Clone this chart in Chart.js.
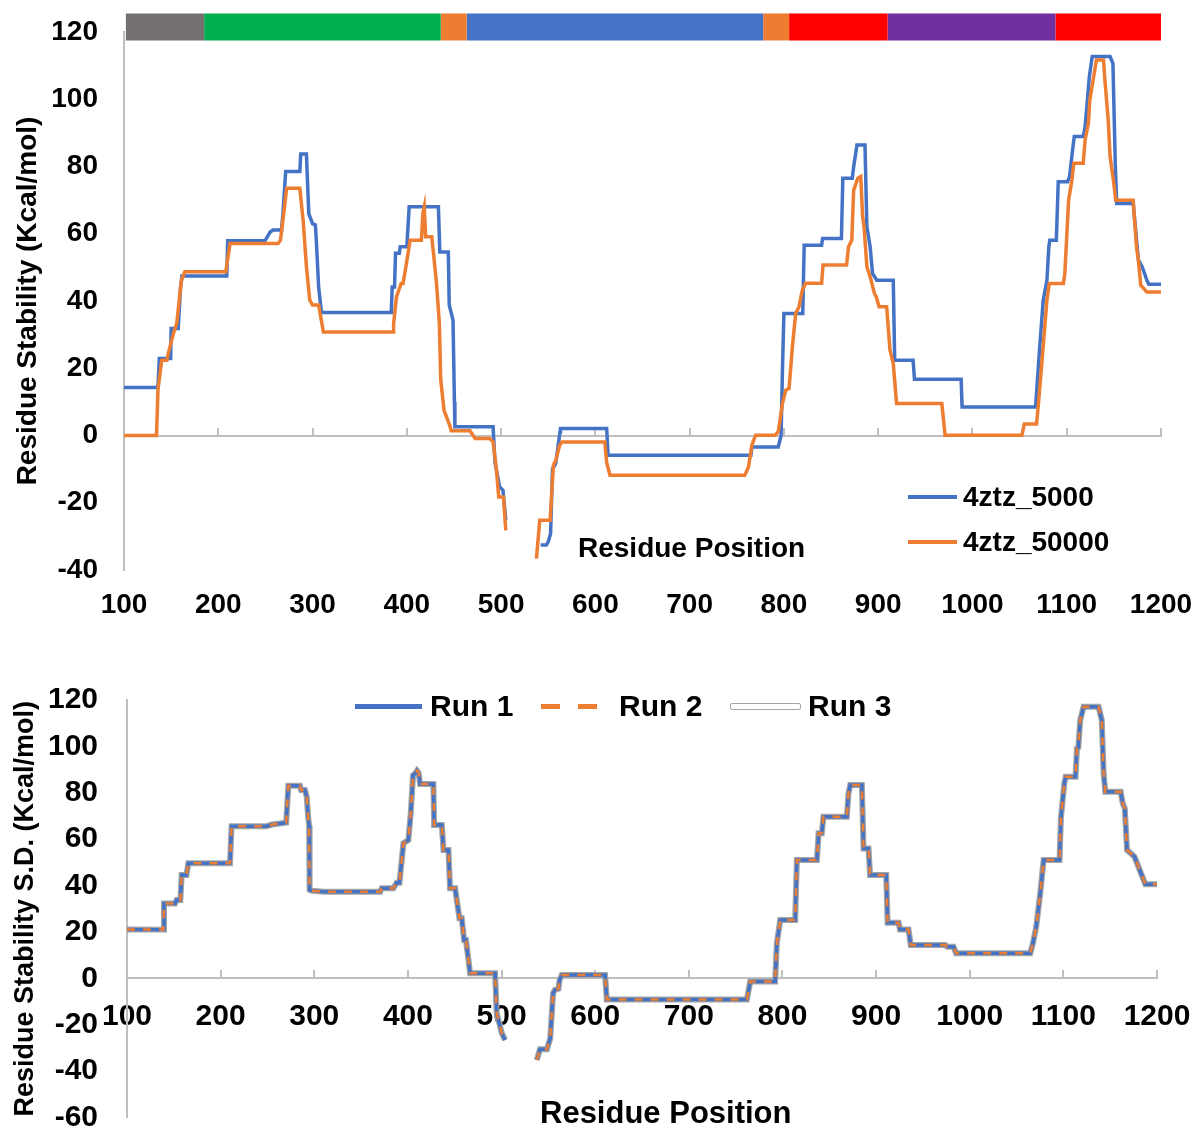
<!DOCTYPE html>
<html lang="en">
<head>
  <meta charset="UTF-8">
  <title>Residue Stability</title>
  <script src="https://cdn.jsdelivr.net/npm/chart.js"></script>
  <style>
    body {
      margin: 0;
      background: #fff;
      overflow: hidden;
    }

    #page {
      position: relative;
      width: 1197px;
      height: 1131px;
      font-family: 'Liberation Sans', Arial, sans-serif;
      font-weight: bold;
      color: #000;
    }

    canvas {
      position: absolute;
      left: 0;
      display: block;
    }

    .label {
      position: absolute;
      white-space: nowrap;
      line-height: 1;
    }

    .swatch {
      position: absolute;
      box-sizing: border-box;
    }
  </style>
</head>
<body>
  <div id="page">
    <canvas id="topChart" width="1197" height="630" style="top:0"></canvas>
    <canvas id="sdChart" width="1197" height="520" style="top:630px"></canvas>

    <!-- top chart: axis title sits inside the plot, legend bottom right -->
    <div class="label" style="left:578px;top:534px;font-size:28px">Residue Position</div>
    <div class="swatch" style="left:908px;top:495px;width:49px;height:4px;background:#4472C4"></div>
    <div class="label" style="left:963px;top:483px;font-size:28px">4ztz_5000</div>
    <div class="swatch" style="left:908px;top:540px;width:49px;height:4px;background:#ED7D31"></div>
    <div class="label" style="left:963px;top:528px;font-size:28px">4ztz_50000</div>

    <!-- bottom chart legend -->
    <div class="swatch" style="left:355px;top:704px;width:67px;height:5px;background:#4472C4"></div>
    <div class="label" style="left:430px;top:691px;font-size:30px">Run 1</div>
    <div class="swatch" style="left:541px;top:704px;width:60px;height:5px;background:repeating-linear-gradient(90deg,#ED7D31 0 19px,transparent 19px 37px)"></div>
    <div class="label" style="left:619px;top:691px;font-size:30px">Run 2</div>
    <div class="swatch" style="left:730px;top:703px;width:71px;height:7px;border:1.5px solid #A5A5A5;background:#fff;border-radius:2px"></div>
    <div class="label" style="left:808px;top:691px;font-size:30px">Run 3</div>
    <div class="label" style="left:540px;top:1097px;font-size:31px">Residue Position</div>
  </div>

  <script>
    // domain bar above the top chart (residue ranges)
    const domainStart = [102, 185, 436, 463.5, 778, 805.5, 910, 1088];
    const domainEnd   = [185, 436, 463.5, 778, 805.5, 910, 1088, 1200];
    const domainColors = ['#767171', '#00B050', '#ED7D31', '#4472C4', '#ED7D31', '#FF0000', '#7030A0', '#FF0000'];
    const domainLevel = 121.5;

    // top chart: 4ztz_5000
    const pos5000 = [100, 136, 137.5, 149.5, 150, 157.5, 160, 161.5, 209, 210,
      249.5, 255, 258, 267, 268.5, 271.5, 286.5, 287.5, 293.5, 296,
      300, 303, 304, 306.5, 309.5, 383.5, 384.5, 387, 388, 392,
      393, 400, 402.5, 433.5, 435, 444, 445, 449, 450.5, 451,
      491.5, 493.5, 498.5, 502, 505, 520, 542, 548, 550, 552.5,
      554.5, 556, 558, 562.5, 563, 612, 613.5, 765, 766, 794,
      797, 798.5, 800, 820, 821.5, 840, 841, 861, 862.5, 872.5,
      874, 877.5, 886, 888, 891.5, 894, 898.5, 916, 917.5, 937,
      938.5, 988, 989, 1067, 1071, 1075, 1079, 1081, 1082, 1089,
      1091, 1101, 1103, 1106, 1108, 1117.5, 1119.5, 1124, 1127, 1146,
      1149, 1151.5, 1153, 1170.5, 1176, 1180, 1185, 1187, 1200];
    const val5000 = [14.3, 14.3, 22.9, 22.9, 31.8, 31.8, 44, 47.4, 47.4, 57.9,
      57.9, 60.5, 61.1, 61.1, 65.6, 78.5, 78.5, 83.7, 83.7, 66,
      63, 62.6, 58, 44, 36.6, 36.6, 44.2, 44.2, 54.2, 54.2,
      56.1, 56.1, 68, 68, 54.6, 54.6, 38.8, 34.3, 10, 2.6,
      2.6, -8, -15.3, -16.3, -25.2, null, -32.6, -32.6, -31.6, -29.2,
      -10, -9.3, -8.3, 1.1, 2.1, 2.1, -5.9, -5.9, -3.4, -3.4,
      0, 20, 36.3, 36.3, 56.6, 56.6, 58.6, 58.6, 76.5, 76.5,
      79.9, 86.4, 86.4, 62.1, 56.1, 48.2, 46.2, 46.2, 22.4, 22.4,
      16.7, 16.7, 8.5, 8.5, 25, 40, 46.2, 56, 58.1, 58.1,
      75.5, 75.5, 77, 84.4, 88.9, 88.9, 91.8, 106.7, 112.7, 112.7,
      110.7, 80.9, 69, 69, 52.2, 50.2, 46.2, 45, 45];

    // top chart: 4ztz_50000
    const pos50000 = [100, 134.5, 136, 140, 145.5, 147, 152.5, 156, 160, 161,
      164.5, 208, 212.5, 263.5, 266, 269, 272.5, 286.5, 290, 293.5,
      297, 300, 306.5, 311.5, 385.5, 386, 389, 394, 396, 399,
      403.5, 415.5, 417, 418.5, 420, 426.5, 431.5, 434.5, 436, 439.5,
      446, 447, 467, 472.5, 488, 491.5, 495, 497.5, 502.5, 505,
      520, 537.5, 541, 552, 555.5, 558, 562, 564.5, 610, 612,
      615.5, 758.5, 762.5, 766, 770, 790.5, 794, 798.5, 802, 805.5,
      809, 812.5, 816, 819.5, 823, 840, 841.5, 866.5, 868.5, 872,
      874, 878.5, 881.5, 883.5, 885, 888, 891.5, 896, 898, 901,
      909, 912.5, 916, 919.5, 967.5, 971, 1052.5, 1055, 1068, 1070,
      1075, 1079, 1081.5, 1096.5, 1098, 1102, 1105.5, 1107.5, 1117.5, 1119.5,
      1123, 1124.5, 1128, 1131.5, 1139, 1140.5, 1144, 1146, 1149.5, 1152,
      1170.5, 1174, 1176, 1178.5, 1185, 1200];
    const val50000 = [0, 0, 13.5, 22.4, 22.4, 24.5, 30.4, 33.4, 44, 46.2,
      48.7, 48.7, 57.1, 57.1, 58.1, 65, 73.5, 73.5, 64.1, 50.2,
      40.3, 38.8, 38.8, 30.8, 30.8, 33.3, 41.2, 45.2, 45.2, 50.2,
      58.1, 58.1, 66, 68, 59.1, 59.1, 45.2, 33.4, 16.5, 7.5,
      2.6, 1.4, 1.4, -0.9, -0.9, -1.9, -10, -18.3, -18.3, -28.2,
      null, -36.6, -25.2, -25.2, -8.8, -7.4, -3, -1.9, -1.9, -8,
      -11.8, -11.8, -9.3, -2.9, 0.1, 0.1, 1.1, 9.6, 13.5, 14,
      26.4, 36.3, 38.3, 43.2, 45.3, 45.3, 50.7, 50.7, 56.1, 58.1,
      73, 76.5, 77, 65.1, 62.1, 50.2, 47.2, 42.3, 41.2, 38.3,
      38.3, 25.4, 21.4, 9.5, 9.5, 0.1, 0.1, 3.4, 3.4, 9.5,
      26.4, 40.3, 45.2, 45.2, 48.2, 70, 76, 81, 81, 87.9,
      92.9, 99.8, 105.7, 111.7, 111.7, 105.7, 93.8, 82.9, 76, 70,
      70, 56.1, 52.2, 44.7, 42.7, 42.7];

    // bottom chart: Run 1, Run 2 and Run 3 lie on top of each other in the picture
    const sdPos = [100, 138.8, 139.5, 151.3, 153, 157, 158.4, 163.5, 165.5, 210,
      211.7, 249, 255, 270, 272.3, 284.7, 286, 290, 292, 293.4,
      294.5, 295, 296.5, 310, 370.3, 372, 384.5, 388, 391, 395.2,
      400.5, 403, 405.5, 408, 409.7, 411.5, 413, 427.2, 428, 436.2,
      438, 443.3, 445, 450.4, 455, 457.5, 460, 462, 466.4, 493.1,
      494.8, 500.3, 503.8, 520, 537.7, 541, 548.4, 552, 555, 557,
      560.8, 562, 564.3, 610.6, 612.4, 762, 765.6, 792.2, 794, 797.6,
      813.6, 815.4, 836.8, 838.6, 842, 843.8, 868.8, 870.5, 872.4, 884.8,
      886.6, 891.9, 893.6, 910.8, 912.3, 924, 925.5, 934.6, 937, 973.8,
      976, 982.7, 985.5, 1064.7, 1067.5, 1071, 1075.3, 1078.9, 1095.9, 1097.4,
      1101, 1102.5, 1113, 1114.5, 1116, 1118, 1121.6, 1137.6, 1141, 1143,
      1144.8, 1161.2, 1163.5, 1165.6, 1168, 1172, 1176, 1187.5, 1200];
    const sdStability = [21.1, 21, 32.3, 32.3, 33.8, 33.8, 44.5, 44.5, 49.6, 49.6,
      65.6, 65.6, 66.3, 67.1, 83, 83, 81.2, 81.2, 78.3, 69.7,
      66, 38.1, 37.8, 37.3, 37.3, 38.8, 38.8, 41.2, 41.2, 58.2,
      59.6, 71.1, 87.6, 88.4, 89.5, 88.5, 83.8, 83.8, 66.1, 66.1,
      55.3, 55.3, 38.8, 38.8, 25.9, 25.9, 16.5, 16.5, 2.2, 2.2,
      -15.1, -23.7, -26.6, null, -35.2, -30.6, -30.6, -25.9, -6.5, -5,
      -4.5, -0.7, 1.4, 1.4, -9.1, -9.1, -1.4, -1.4, 15.1, 25.1,
      25.1, 51, 51, 62.5, 62.5, 69.7, 69.7, 79.7, 83.3, 83.3,
      56, 56, 44.5, 44.5, 24, 24, 21.1, 21.1, 14.4, 14.4,
      13.6, 13.6, 10.8, 10.8, 15.1, 22.2, 36.6, 51, 51, 69.2,
      84, 86.9, 86.9, 99.1, 99.5, 111.3, 117.1, 117.1, 111.3, 88.4,
      80.4, 80.4, 75.4, 73.3, 55.3, 53.9, 52.4, 40.6, 40.6];

    const axisGray = '#BFBFBF';
    const tickFontTop = { size: 28, weight: 'bold' };
    const tickFontSd = { size: 30, weight: 'bold' };
    const plainNumber = (v) => String(v);

    Chart.defaults.font.family = "'Liberation Sans', Arial, sans-serif";
    Chart.defaults.color = '#000';

    function points(xs, ys) {
      return xs.map((x, i) => ({ x: x, y: ys[i] }));
    }

    // labels may hang over the plot edges, as in the original
    function noOverflowPadding(scale) {
      scale.paddingLeft = 0;
      scale.paddingRight = 0;
      scale.paddingTop = 0;
      scale.paddingBottom = 0;
    }

    const domainSets = domainStart.map((start, i) => ({
      data: [{ x: start, y: domainLevel }, { x: domainEnd[i], y: domainLevel }],
      borderColor: domainColors[i],
      borderWidth: 27,
      borderCapStyle: 'butt',
      clip: false,
      pointRadius: 0,
      order: 5
    }));

    new Chart(document.getElementById('topChart'), {
      type: 'line',
      data: {
        datasets: [
          {
            label: '4ztz_5000',
            data: points(pos5000, val5000),
            borderColor: '#4472C4',
            borderWidth: 3.5,
            pointRadius: 0,
            order: 1
          },
          {
            label: '4ztz_50000',
            data: points(pos50000, val50000),
            borderColor: '#ED7D31',
            borderWidth: 3.5,
            pointRadius: 0,
            order: 0
          }
        ].concat(domainSets)
      },
      options: {
        responsive: false,
        devicePixelRatio: 1,
        animation: false,
        layout: { padding: { top: 32, right: 36, left: 0, bottom: 0 } },
        plugins: { legend: { display: false }, tooltip: { enabled: false } },
        scales: {
          x: {
            type: 'linear',
            position: 'bottom',
            min: 100,
            max: 1200,
            ticks: { stepSize: 100, autoSkip: false, maxRotation: 0, padding: 0, font: tickFontTop, callback: plainNumber },
            grid: { display: false, drawTicks: true, tickLength: 18 },
            border: { display: false },
            afterFit: (scale) => { scale.height = 60; noOverflowPadding(scale); }
          },
          x0: {
            type: 'linear',
            position: { y: 0 },
            min: 100,
            max: 1200,
            ticks: { stepSize: 100, display: false },
            grid: { drawOnChartArea: false, tickLength: -9, color: axisGray, lineWidth: 2 },
            border: { color: axisGray, width: 2 },
            afterFit: noOverflowPadding
          },
          y: {
            min: -40,
            max: 120,
            ticks: { stepSize: 20, padding: 0, font: tickFontTop, callback: plainNumber },
            grid: { display: false, drawTicks: true, tickLength: 26 },
            border: { color: axisGray, width: 2 },
            title: {
              display: true,
              text: 'Residue Stability (Kcal/mol)',
              font: { size: 28, weight: 'bold' },
              padding: { top: 11, bottom: 0 }
            },
            afterFit: (scale) => { scale.width = 124; noOverflowPadding(scale); }
          }
        }
      }
    });

    new Chart(document.getElementById('sdChart'), {
      type: 'line',
      data: {
        datasets: [
          {
            label: 'Run 1',
            data: points(sdPos, sdStability),
            borderColor: '#4472C4',
            borderWidth: 3.5,
            pointRadius: 0,
            order: 1
          },
          {
            label: 'Run 2',
            data: points(sdPos, sdStability),
            borderColor: '#ED7D31',
            borderWidth: 2.5,
            borderDash: [8, 8],
            pointRadius: 0,
            order: 0
          },
          {
            label: 'Run 3',
            data: points(sdPos, sdStability),
            borderColor: '#A5A5A5',
            borderWidth: 6,
            pointRadius: 0,
            order: 2
          }
        ]
      },
      options: {
        responsive: false,
        devicePixelRatio: 1,
        animation: false,
        layout: { padding: { top: 70, right: 40, left: 0, bottom: 32.5 } },
        plugins: { legend: { display: false }, tooltip: { enabled: false } },
        scales: {
          x: {
            type: 'linear',
            position: { y: 0 },
            min: 100,
            max: 1200,
            ticks: { stepSize: 100, autoSkip: false, maxRotation: 0, padding: 29, font: tickFontSd, callback: plainNumber },
            grid: { drawOnChartArea: false, tickLength: -9, color: axisGray, lineWidth: 2 },
            border: { color: axisGray, width: 2 },
            afterFit: noOverflowPadding
          },
          y: {
            min: -60,
            max: 120,
            ticks: { stepSize: 20, padding: 0, font: tickFontSd, callback: plainNumber },
            grid: { display: false, drawTicks: true, tickLength: 29 },
            border: { color: axisGray, width: 2 },
            title: {
              display: true,
              text: 'Residue Stability S.D. (Kcal/mol)',
              font: { size: 27, weight: 'bold' },
              padding: { top: 9, bottom: 0 }
            },
            afterFit: (scale) => { scale.width = 127; noOverflowPadding(scale); }
          }
        }
      }
    });
  </script>
</body>
</html>
